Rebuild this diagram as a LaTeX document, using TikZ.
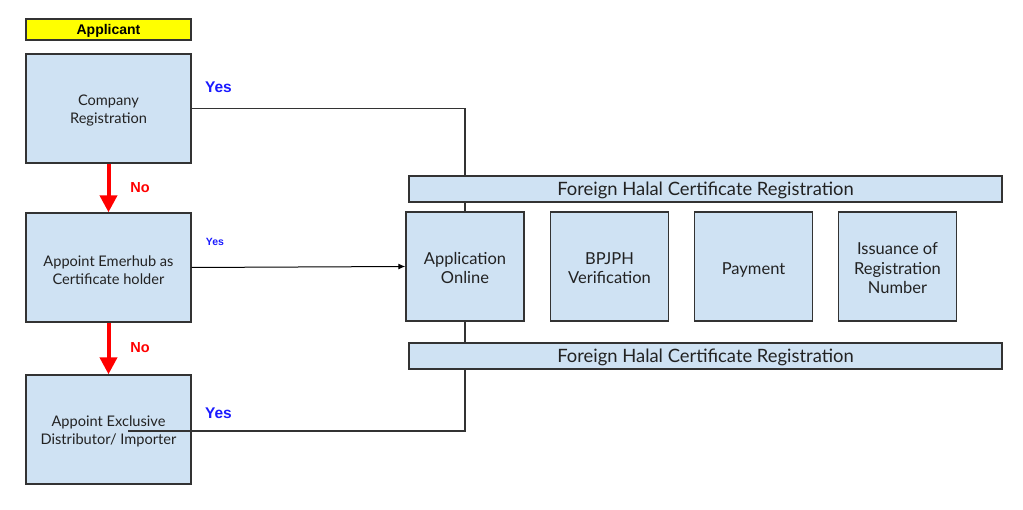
\documentclass[tikz,border=0pt]{standalone}
\usepackage{fontspec}
\setmainfont{Lato}
\newfontfamily\labfont{Liberation Sans}
\usetikzlibrary{arrows.meta}
\definecolor{boxfill}{HTML}{CFE2F3}
\definecolor{boxline}{HTML}{333333}
\definecolor{boxtext}{HTML}{222222}
\definecolor{yesblue}{HTML}{1A1AFF}
\definecolor{nored}{HTML}{FF0000}
\definecolor{appyellow}{HTML}{FFFF00}
\newcommand{\lowr}[2]{\raisebox{-#1}[\height][\depth]{#2}}
\begin{document}
\begin{tikzpicture}[x=1pt,y=-1pt,
  stepbox/.style={draw=boxline,line width=1.4pt,fill=boxfill,align=center,inner sep=0pt,text=boxtext,
    font=\fontsize{14.6}{18}\selectfont},
  leftbox/.style={stepbox,minimum width=165pt,minimum height=109pt},
  procbox/.style={stepbox,minimum width=118pt,minimum height=109pt,font=\fontsize{16.5}{19.5}\selectfont},
  barbox/.style={stepbox,minimum width=593pt,minimum height=26pt,font=\fontsize{18.4}{20}\selectfont},
  conn/.style={draw=boxline,line width=1.4pt},
  noarrow/.style={draw=nored,line width=4pt,-{Triangle[length=17pt,width=17pt]}},
  yeslab/.style={text=yesblue,font=\labfont\bfseries\fontsize{15.5}{17}\selectfont},
  nolab/.style={text=nored,font=\labfont\bfseries\fontsize{14.5}{17}\selectfont}]
\useasboundingbox (0,0) rectangle (1023,510);
\node[draw=boxline,line width=1.4pt,fill=appyellow,minimum width=165pt,minimum height=21pt,inner sep=0pt,
  font=\labfont\bfseries\fontsize{14}{16}\selectfont] (appl) at (108.5,29.5) {\lowr{1.5pt}{Applicant}};
\node[leftbox] (comp) at (108.5,108.5) {\lowr{2.5pt}{\parbox{160pt}{\centering Company\\Registration}}};
\node[leftbox] (emer) at (108.5,267.5) {\lowr{2.5pt}{\parbox{160pt}{\centering Appoint Emerhub as\\Certificate holder}}};
\node[leftbox] (excl) at (108.5,429.5) {\lowr{2pt}{\parbox{160pt}{\centering Appoint Exclusive\\Distributor/ Importer}}};
\node[barbox] (top) at (705.5,189) {\lowr{1.5pt}{Foreign Halal Certificate Registration}};
\node[barbox] (bot) at (705.5,356) {\lowr{1.5pt}{Foreign Halal Certificate Registration}};
\node[procbox] (app) at (465,266.5) {\lowr{1.5pt}{\parbox{114pt}{\centering Application\\Online}}};
\node[procbox] (bpj) at (609.5,266.5) {\lowr{1.5pt}{\parbox{114pt}{\centering BPJPH\\Verification}}};
\node[procbox] (pay) at (753.5,266.5) {\lowr{3.5pt}{Payment}};
\node[procbox] (iss) at (897.5,266.5) {\lowr{2pt}{\parbox{114pt}{\centering Issuance of\\Registration\\Number}}};
\draw[noarrow] (comp.south) -- (emer.north);
\draw[noarrow] (emer.south) -- (excl.north);
\node[nolab] (no1) at (140,187.5) {No};
\node[nolab] (no2) at (140,348) {No};
\node[yeslab] (yes1) at (218.5,87.5) {Yes};
\node[yeslab,font=\labfont\bfseries\fontsize{10.5}{12}\selectfont] (yes2) at (215,241.5) {Yes};
\node[yeslab] (yes3) at (218.5,413.5) {Yes};
\draw[conn] (comp.east) -| (top.north -| app.north);
\draw[conn] (top.south -| app.north) -- (app.north);
\draw[conn] (app.south) -- (bot.north -| app.south);
\coordinate (bl) at (128,431);
\draw[conn] (bot.south -| app.south) |- (bl);
\draw[draw=black,line width=1pt,-{Latex[length=7pt,width=6pt]}] (emer.east) -- (app.west);
\end{tikzpicture}
\end{document}
